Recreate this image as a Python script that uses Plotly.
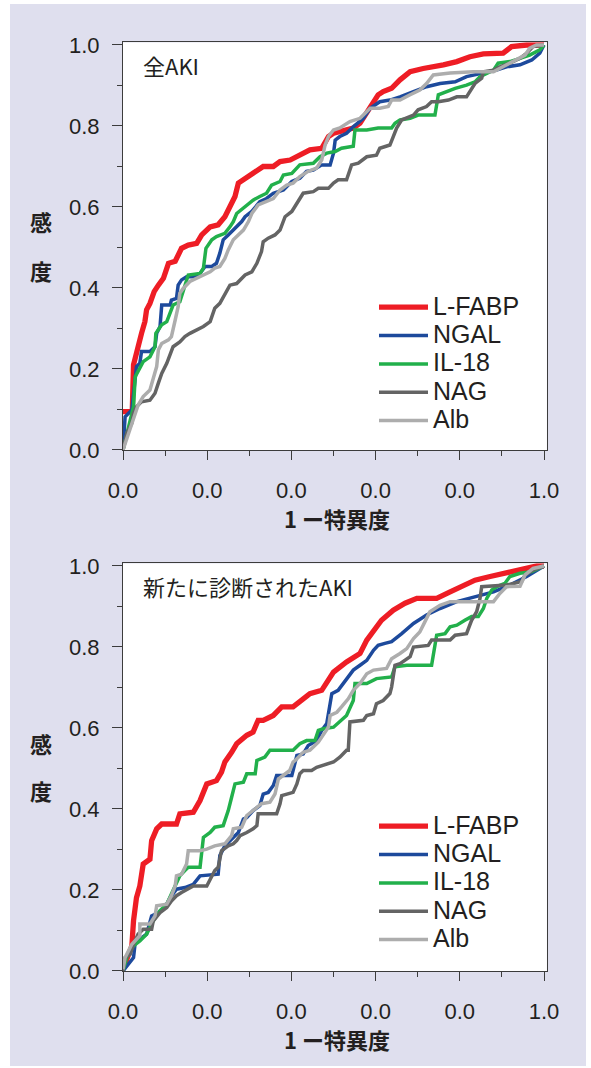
import plotly.graph_objects as go

# ---------------- data ----------------
series_names = ["L-FABP", "NGAL", "IL-18", "NAG", "Alb"]
series_colors = ["#ee1d25", "#1d4a9c", "#22b04b", "#646464", "#adadad"]
series_widths = [5.3, 3.5, 3.5, 3.5, 3.5]

panel_titles = ["全AKI", "新たに診断されたAKI"]
x_tickvals = [0, 0.2, 0.4, 0.6, 0.8, 1.0]
x_ticktext = ["0.0", "0.0", "0.0", "0.0", "0.0", "1.0"]
y_tickvals = [0, 0.2, 0.4, 0.6, 0.8, 1.0]
y_ticktext = ["0.0", "0.2", "0.4", "0.6", "0.8", "1.0"]
minor_tickvals = [0.1, 0.3, 0.5, 0.7, 0.9]
x_title = "1 ー特異度"
y_title_chars = ["感", "度"]

# Panel 1 : 全AKI
p1_lfabp_x = [0, 0.022, 0.025, 0.031, 0.036, 0.044, 0.052, 0.056, 0.064, 0.074,
              0.084, 0.096, 0.108, 0.124, 0.139, 0.155, 0.175, 0.187, 0.207, 0.226,
              0.242, 0.254, 0.266, 0.274, 0.286, 0.302, 0.318, 0.333, 0.357, 0.373,
              0.397, 0.420, 0.444, 0.472, 0.488, 0.500, 0.531, 0.547, 0.563, 0.583,
              0.595, 0.606, 0.618, 0.638, 0.658, 0.682, 0.713, 0.737, 0.761, 0.793,
              0.824, 0.856, 0.903, 0.923, 0.959, 1.0]
p1_lfabp_y = [0.095, 0.095, 0.210, 0.239, 0.263, 0.288, 0.317, 0.346, 0.362, 0.391,
              0.407, 0.424, 0.461, 0.466, 0.498, 0.506, 0.510, 0.531, 0.551, 0.556,
              0.576, 0.602, 0.626, 0.659, 0.667, 0.679, 0.691, 0.700, 0.700, 0.712,
              0.716, 0.728, 0.741, 0.745, 0.774, 0.782, 0.790, 0.795, 0.807, 0.840,
              0.856, 0.877, 0.885, 0.893, 0.914, 0.934, 0.942, 0.946, 0.951, 0.959,
              0.971, 0.978, 0.980, 0.996, 1.0, 1.0]

p1_ngal_x = [0, 0.005, 0.021, 0.025, 0.032, 0.040, 0.044, 0.064, 0.076, 0.080,
             0.088, 0.092, 0.112, 0.115, 0.127, 0.131, 0.139, 0.151, 0.167, 0.183,
             0.195, 0.211, 0.222, 0.230, 0.238, 0.250, 0.258, 0.270, 0.282, 0.290,
             0.306, 0.325, 0.341, 0.357, 0.381, 0.401, 0.420, 0.436, 0.452, 0.472,
             0.492, 0.500, 0.504, 0.515, 0.531, 0.547, 0.571, 0.587, 0.610, 0.634,
             0.658, 0.690, 0.721, 0.753, 0.789, 0.816, 0.856, 0.887, 0.911, 0.943,
             0.971, 0.990, 1.0]
p1_ngal_y = [0, 0.082, 0.099, 0.140, 0.206, 0.214, 0.243, 0.243, 0.255, 0.288,
             0.305, 0.358, 0.358, 0.370, 0.374, 0.407, 0.420, 0.428, 0.428, 0.436,
             0.453, 0.453, 0.461, 0.486, 0.519, 0.531, 0.539, 0.551, 0.564, 0.576,
             0.589, 0.613, 0.621, 0.634, 0.642, 0.663, 0.671, 0.688, 0.691, 0.704,
             0.704, 0.733, 0.765, 0.774, 0.782, 0.798, 0.819, 0.844, 0.860, 0.864,
             0.872, 0.885, 0.897, 0.905, 0.909, 0.922, 0.930, 0.938, 0.946, 0.951,
             0.963, 0.980, 1.0]

p1_il18_x = [0, 0.013, 0.025, 0.029, 0.048, 0.064, 0.076, 0.078, 0.092, 0.104,
             0.112, 0.119, 0.135, 0.147, 0.155, 0.183, 0.191, 0.197, 0.211, 0.222,
             0.242, 0.254, 0.262, 0.270, 0.290, 0.309, 0.325, 0.341, 0.353, 0.373,
             0.381, 0.401, 0.420, 0.452, 0.468, 0.484, 0.504, 0.519, 0.547, 0.551,
             0.579, 0.606, 0.638, 0.646, 0.658, 0.682, 0.701, 0.741, 0.749, 0.768,
             0.789, 0.816, 0.836, 0.848, 0.864, 0.880, 0.891, 0.919, 0.943, 0.966,
             0.990, 1.0]
p1_il18_y = [0, 0.058, 0.107, 0.181, 0.218, 0.230, 0.255, 0.288, 0.309, 0.317,
             0.342, 0.358, 0.366, 0.403, 0.432, 0.436, 0.449, 0.498, 0.519, 0.527,
             0.535, 0.551, 0.564, 0.584, 0.602, 0.617, 0.626, 0.634, 0.654, 0.663,
             0.679, 0.683, 0.704, 0.708, 0.724, 0.733, 0.737, 0.745, 0.750, 0.790,
             0.790, 0.795, 0.795, 0.807, 0.815, 0.819, 0.827, 0.827, 0.877, 0.885,
             0.893, 0.901, 0.909, 0.922, 0.930, 0.938, 0.955, 0.959, 0.967, 0.975,
             0.988, 1.0]

p1_nag_x = [0, 0.009, 0.021, 0.025, 0.032, 0.044, 0.064, 0.076, 0.084, 0.092,
            0.104, 0.112, 0.119, 0.135, 0.147, 0.159, 0.175, 0.191, 0.207, 0.218,
            0.230, 0.242, 0.254, 0.270, 0.290, 0.306, 0.318, 0.329, 0.333, 0.345,
            0.361, 0.373, 0.381, 0.385, 0.401, 0.416, 0.428, 0.452, 0.464, 0.488,
            0.500, 0.511, 0.531, 0.543, 0.559, 0.579, 0.602, 0.610, 0.634, 0.642,
            0.650, 0.662, 0.690, 0.701, 0.721, 0.733, 0.749, 0.773, 0.793, 0.816,
            0.828, 0.836, 0.852, 0.856, 0.880, 0.895, 0.919, 0.943, 0.959, 0.974,
            1.0]
p1_nag_y = [0, 0.041, 0.066, 0.091, 0.107, 0.119, 0.123, 0.140, 0.165, 0.189,
            0.214, 0.235, 0.255, 0.267, 0.280, 0.288, 0.296, 0.305, 0.317, 0.350,
            0.362, 0.383, 0.407, 0.411, 0.432, 0.440, 0.461, 0.490, 0.514, 0.523,
            0.531, 0.543, 0.564, 0.576, 0.589, 0.613, 0.634, 0.638, 0.646, 0.646,
            0.659, 0.667, 0.667, 0.704, 0.708, 0.724, 0.728, 0.745, 0.753, 0.774,
            0.795, 0.815, 0.827, 0.840, 0.848, 0.860, 0.860, 0.864, 0.872, 0.872,
            0.893, 0.905, 0.918, 0.934, 0.938, 0.946, 0.955, 0.967, 0.980, 0.996,
            1.0]

p1_alb_x = [0, 0.013, 0.025, 0.036, 0.048, 0.064, 0.072, 0.080, 0.084, 0.092,
            0.108, 0.115, 0.124, 0.131, 0.135, 0.143, 0.159, 0.175, 0.191, 0.207,
            0.218, 0.230, 0.242, 0.250, 0.262, 0.274, 0.286, 0.298, 0.306, 0.321,
            0.337, 0.357, 0.373, 0.389, 0.404, 0.420, 0.440, 0.460, 0.472, 0.480,
            0.488, 0.500, 0.515, 0.539, 0.563, 0.587, 0.610, 0.630, 0.638, 0.658,
            0.682, 0.705, 0.721, 0.737, 0.777, 0.832, 0.880, 0.903, 0.927, 0.955,
            0.966, 0.982, 1.0]
p1_alb_y = [0, 0.041, 0.082, 0.111, 0.132, 0.148, 0.177, 0.206, 0.247, 0.263,
            0.272, 0.280, 0.321, 0.354, 0.387, 0.399, 0.416, 0.424, 0.432, 0.440,
            0.449, 0.453, 0.473, 0.494, 0.519, 0.531, 0.543, 0.564, 0.584, 0.605,
            0.613, 0.621, 0.642, 0.654, 0.659, 0.675, 0.688, 0.696, 0.716, 0.753,
            0.774, 0.790, 0.795, 0.811, 0.819, 0.844, 0.844, 0.848, 0.864, 0.864,
            0.877, 0.889, 0.905, 0.926, 0.931, 0.934, 0.934, 0.946, 0.959, 0.975,
            0.992, 1.0, 1.0]

# Panel 2 : 新たに診断されたAKI
p2_lfabp_x = [0, 0.021, 0.025, 0.032, 0.040, 0.048, 0.064, 0.068, 0.080, 0.092,
              0.127, 0.135, 0.167, 0.183, 0.199, 0.222, 0.234, 0.242, 0.258, 0.270,
              0.294, 0.309, 0.321, 0.333, 0.357, 0.377, 0.404, 0.420, 0.444, 0.472,
              0.484, 0.500, 0.531, 0.563, 0.579, 0.595, 0.614, 0.642, 0.670, 0.698,
              0.745, 0.777, 0.808, 0.836, 0.872, 0.911, 0.951, 0.983, 1.0]
p2_lfabp_y = [0.004, 0.062, 0.124, 0.181, 0.210, 0.264, 0.276, 0.322, 0.351, 0.363,
              0.363, 0.388, 0.392, 0.421, 0.462, 0.470, 0.491, 0.516, 0.540, 0.561,
              0.582, 0.590, 0.619, 0.619, 0.631, 0.652, 0.652, 0.664, 0.685, 0.693,
              0.714, 0.738, 0.763, 0.784, 0.817, 0.842, 0.866, 0.891, 0.908, 0.920,
              0.920, 0.936, 0.953, 0.965, 0.974, 0.983, 0.992, 1.0, 1.0]

p2_ngal_x = [0, 0.017, 0.025, 0.029, 0.044, 0.056, 0.068, 0.084, 0.100, 0.112,
             0.127, 0.147, 0.167, 0.183, 0.226, 0.230, 0.242, 0.258, 0.274, 0.286,
             0.294, 0.309, 0.325, 0.333, 0.345, 0.357, 0.365, 0.401, 0.409, 0.413,
             0.428, 0.440, 0.460, 0.472, 0.484, 0.496, 0.511, 0.527, 0.547, 0.563,
             0.579, 0.595, 0.606, 0.622, 0.638, 0.662, 0.690, 0.721, 0.753, 0.793,
             0.840, 0.880, 0.919, 0.959, 1.0]
p2_ngal_y = [0, 0.025, 0.033, 0.070, 0.082, 0.091, 0.136, 0.144, 0.157, 0.181,
             0.202, 0.206, 0.214, 0.235, 0.239, 0.285, 0.309, 0.326, 0.342, 0.375,
             0.379, 0.396, 0.408, 0.437, 0.441, 0.458, 0.483, 0.483, 0.516, 0.532,
             0.536, 0.557, 0.569, 0.594, 0.611, 0.685, 0.693, 0.714, 0.743, 0.755,
             0.767, 0.792, 0.804, 0.809, 0.813, 0.833, 0.858, 0.879, 0.895, 0.912,
             0.924, 0.936, 0.953, 0.974, 1.0]

p2_il18_x = [0, 0.009, 0.025, 0.040, 0.056, 0.072, 0.088, 0.104, 0.115, 0.127,
             0.135, 0.147, 0.155, 0.183, 0.187, 0.191, 0.207, 0.218, 0.238, 0.242,
             0.250, 0.258, 0.266, 0.286, 0.294, 0.314, 0.318, 0.337, 0.349, 0.404,
             0.420, 0.436, 0.456, 0.464, 0.476, 0.500, 0.515, 0.531, 0.547, 0.551,
             0.579, 0.602, 0.638, 0.646, 0.674, 0.733, 0.745, 0.765, 0.777, 0.793,
             0.812, 0.828, 0.844, 0.856, 0.864, 0.876, 0.888, 0.907, 0.919, 0.943,
             0.971, 1.0]
p2_il18_y = [0, 0.033, 0.062, 0.074, 0.091, 0.124, 0.149, 0.165, 0.190, 0.215,
             0.235, 0.248, 0.256, 0.256, 0.297, 0.330, 0.342, 0.355, 0.359, 0.371,
             0.396, 0.429, 0.462, 0.466, 0.487, 0.487, 0.520, 0.528, 0.545, 0.545,
             0.561, 0.569, 0.569, 0.594, 0.598, 0.602, 0.615, 0.631, 0.668, 0.710,
             0.710, 0.722, 0.726, 0.751, 0.755, 0.755, 0.829, 0.833, 0.850, 0.854,
             0.866, 0.875, 0.875, 0.895, 0.920, 0.941, 0.949, 0.957, 0.974, 0.982,
             0.986, 1.0]

p2_nag_x = [0, 0.005, 0.017, 0.025, 0.036, 0.048, 0.068, 0.072, 0.088, 0.104,
            0.115, 0.127, 0.139, 0.155, 0.167, 0.199, 0.211, 0.218, 0.226, 0.230,
            0.234, 0.250, 0.262, 0.270, 0.278, 0.294, 0.309, 0.318, 0.321, 0.365,
            0.373, 0.377, 0.389, 0.404, 0.413, 0.420, 0.428, 0.448, 0.460, 0.484,
            0.500, 0.515, 0.531, 0.535, 0.539, 0.571, 0.579, 0.595, 0.602, 0.618,
            0.634, 0.638, 0.642, 0.646, 0.658, 0.682, 0.690, 0.725, 0.733, 0.777,
            0.789, 0.816, 0.828, 0.840, 0.848, 0.852, 0.911, 0.927, 0.947, 0.955,
            0.974, 1.0]
p2_nag_y = [0, 0.033, 0.041, 0.066, 0.091, 0.103, 0.103, 0.124, 0.144, 0.157,
            0.173, 0.186, 0.194, 0.202, 0.210, 0.210, 0.235, 0.248, 0.256, 0.280,
            0.297, 0.309, 0.314, 0.322, 0.334, 0.342, 0.351, 0.359, 0.388, 0.388,
            0.413, 0.433, 0.437, 0.441, 0.462, 0.487, 0.495, 0.495, 0.503, 0.512,
            0.516, 0.528, 0.545, 0.545, 0.615, 0.619, 0.631, 0.635, 0.660, 0.668,
            0.685, 0.701, 0.730, 0.755, 0.759, 0.776, 0.800, 0.804, 0.817, 0.817,
            0.829, 0.833, 0.866, 0.887, 0.920, 0.949, 0.953, 0.957, 0.962, 0.978,
            0.990, 1.0]

p2_alb_x = [0, 0.005, 0.021, 0.040, 0.040, 0.064, 0.076, 0.080, 0.104, 0.115,
            0.124, 0.127, 0.139, 0.151, 0.155, 0.183, 0.199, 0.218, 0.242, 0.258,
            0.262, 0.282, 0.294, 0.309, 0.329, 0.349, 0.361, 0.369, 0.385, 0.396,
            0.404, 0.409, 0.428, 0.444, 0.464, 0.476, 0.488, 0.492, 0.508, 0.519,
            0.535, 0.547, 0.563, 0.579, 0.595, 0.626, 0.638, 0.658, 0.674, 0.690,
            0.705, 0.717, 0.729, 0.753, 0.777, 0.880, 0.895, 0.911, 0.943, 0.955,
            0.974, 1.0]
p2_alb_y = [0.004, 0.033, 0.066, 0.087, 0.116, 0.116, 0.136, 0.161, 0.165, 0.186,
            0.210, 0.235, 0.239, 0.264, 0.297, 0.297, 0.301, 0.309, 0.314, 0.334,
            0.351, 0.355, 0.384, 0.396, 0.413, 0.417, 0.437, 0.474, 0.487, 0.495,
            0.516, 0.520, 0.540, 0.545, 0.565, 0.582, 0.602, 0.631, 0.639, 0.652,
            0.672, 0.693, 0.710, 0.734, 0.743, 0.747, 0.771, 0.784, 0.796, 0.821,
            0.837, 0.862, 0.887, 0.903, 0.912, 0.912, 0.932, 0.949, 0.950, 0.978,
            0.994, 1.0]

panel1_data = [(p1_lfabp_x, p1_lfabp_y), (p1_ngal_x, p1_ngal_y), (p1_il18_x, p1_il18_y),
               (p1_nag_x, p1_nag_y), (p1_alb_x, p1_alb_y)]
panel2_data = [(p2_lfabp_x, p2_lfabp_y), (p2_ngal_x, p2_ngal_y), (p2_il18_x, p2_il18_y),
               (p2_nag_x, p2_nag_y), (p2_alb_x, p2_alb_y)]

# ---------------- layout constants ----------------
W, H = 591, 1068
BG = "#dfdfee"
TXT = "#231f20"
TICK_FONT = dict(family="Liberation Sans, Arial, sans-serif", size=22, color=TXT)
CJK = "Noto Sans CJK JP"


def px_x(p):
    return p / W


def px_y(p):
    return 1 - p / H


RNG = [0, 1.007]


def dom_x(p0, p1):
    span = px_x(p1) - px_x(p0)
    return [px_x(p0), px_x(p0) + span * RNG[1]]


def dom_y(p0, p1):
    span = px_y(p1) - px_y(p0)
    return [px_y(p0), px_y(p0) + span * RNG[1]]


XDOM = dom_x(123, 544)
Y1DOM = dom_y(450, 45)
Y2DOM = dom_y(971, 566)

fig = go.Figure()

for data, xa, ya, leg in [(panel1_data, "x", "y", "legend"),
                          (panel2_data, "x2", "y2", "legend2")]:
    for i, (xs, ys) in enumerate(data):
        fig.add_trace(go.Scatter(
            x=xs, y=ys, mode="lines",
            name=f'<span style="font-size:25px">{series_names[i]}</span>',
            line=dict(color=series_colors[i], width=series_widths[i]),
            xaxis=xa, yaxis=ya, legend=leg, hoverinfo="skip"))

axis_common = dict(
    range=RNG, showgrid=False, zeroline=False, showline=True, mirror=True,
    linecolor="#3c3c3c", linewidth=1.2, ticks="outside", tickcolor="#3c3c3c",
    tickwidth=1.2, tickfont=TICK_FONT, tickmode="array", fixedrange=True,
    automargin=False,
)

xaxis_cfg = dict(axis_common, tickvals=x_tickvals, ticktext=x_ticktext, ticklen=9,
                 ticklabelstandoff=11,
                 minor=dict(tickvals=minor_tickvals, ticklen=5, ticks="outside",
                            tickcolor="#3c3c3c", tickwidth=1.2))
yaxis_cfg = dict(axis_common, tickvals=y_tickvals, ticktext=y_ticktext, ticklen=10,
                 ticklabelstandoff=8,
                 minor=dict(tickvals=minor_tickvals, ticklen=5, ticks="outside",
                            tickcolor="#3c3c3c", tickwidth=1.2))

legend_common = dict(
    bgcolor="rgba(0,0,0,0)", borderwidth=0,
    font=dict(family="Liberation Sans, Arial, sans-serif", size=19.5, color=TXT),
    xanchor="left", yanchor="top", tracegroupgap=0, itemwidth=49,
)

fig.update_layout(
    width=W, height=H, margin=dict(l=0, r=0, t=0, b=0, pad=0, autoexpand=False),
    paper_bgcolor="white", plot_bgcolor="rgba(0,0,0,0)",
    xaxis=dict(xaxis_cfg, domain=XDOM, anchor="y"),
    yaxis=dict(yaxis_cfg, domain=Y1DOM, anchor="x"),
    xaxis2=dict(xaxis_cfg, domain=XDOM, anchor="y2"),
    yaxis2=dict(yaxis_cfg, domain=Y2DOM, anchor="x2"),
    legend=dict(legend_common, x=px_x(374), y=px_y(288)),
    legend2=dict(legend_common, x=px_x(374), y=px_y(807)),
    showlegend=True,
)

shapes = [
    dict(type="rect", xref="paper", yref="paper", x0=px_x(10), x1=px_x(586),
         y0=px_y(1066), y1=px_y(4), fillcolor=BG, line=dict(width=0), layer="below"),
    dict(type="rect", xref="x", yref="y", x0=0, x1=RNG[1], y0=0, y1=RNG[1],
         fillcolor="white", line=dict(width=0), layer="below"),
    dict(type="rect", xref="x2", yref="y2", x0=0, x1=RNG[1], y0=0, y1=RNG[1],
         fillcolor="white", line=dict(width=0), layer="below"),
]
fig.update_layout(shapes=shapes)

annotations = []
# panel titles
for t, yc in zip(panel_titles, [65, 586]):
    annotations.append(dict(text=t, xref="paper", yref="paper", x=px_x(141), y=px_y(yc),
                            xanchor="left", yanchor="middle", showarrow=False,
                            font=dict(family=CJK, size=22, color=TXT)))
# x titles
for yc in [518, 1039]:
    annotations.append(dict(text=x_title, xref="paper", yref="paper", x=px_x(337), y=px_y(yc),
                            xanchor="center", yanchor="middle", showarrow=False,
                            font=dict(family=CJK, size=22, color=TXT, weight="bold")))
# y titles (vertical stacked characters)
for yc1, yc2 in [(221, 270), (743, 790)]:
    for ch, yc in zip(y_title_chars, [yc1, yc2]):
        annotations.append(dict(text=ch, xref="paper", yref="paper", x=px_x(41), y=px_y(yc),
                                xanchor="center", yanchor="middle", showarrow=False,
                                font=dict(family=CJK, size=22, color=TXT, weight="bold")))
fig.update_layout(annotations=annotations)

fig.write_html("out.html", config={"displayModeBar": False},
               post_script="document.body.style.margin='0';document.documentElement.style.overflow='hidden';")
